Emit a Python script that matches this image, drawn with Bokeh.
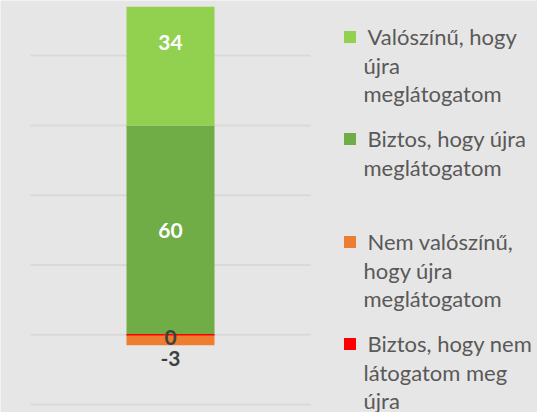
from bokeh.plotting import figure
from bokeh.models import Range1d
from bokeh.core.properties import value
from bokeh.embed import file_html
from bokeh.resources import INLINE

# ---- data ----
category = ["Válasz"]
series_names = [
    "Valószínű, hogy újra meglátogatom",
    "Biztos, hogy újra meglátogatom",
    "Nem valószínű, hogy újra meglátogatom",
    "Biztos, hogy nem látogatom meg újra",
]
legend_lines = [
    ["Valószínű, hogy", "újra", "meglátogatom"],
    ["Biztos, hogy újra", "meglátogatom"],
    ["Nem valószínű,", "hogy újra", "meglátogatom"],
    ["Biztos, hogy nem", "látogatom meg", "újra"],
]
series_values = [34, 60, -3, 0]
series_side = [1, 1, -1, -1]          # positive / negative stack
series_colors = ["#92d050", "#70ad47", "#ed7d31", "#ff0000"]
gridline_values = [-20, 0, 20, 40, 60, 80]

# ---- layout (page pixels) ----
W, H = 537, 412
PLOT_X0, PLOT_X1 = 30, 310        # page x of category band
ZERO_Y = 334.3                    # page y of value 0
PX_PER_UNIT = 3.49
BG = "#e7e6e6"

def dx(px):
    return (px - PLOT_X0) / (PLOT_X1 - PLOT_X0)

def dy(py):
    return (ZERO_Y - py) / PX_PER_UNIT

p = figure(width=W, height=H, output_backend="svg", toolbar_location=None,
           x_range=Range1d(dx(0), dx(W)),
           y_range=Range1d(dy(H), dy(0)),
           min_border=0, min_border_left=0, min_border_right=0,
           min_border_top=0, min_border_bottom=0)
p.axis.visible = False
p.grid.visible = False
p.outline_line_color = None
p.background_fill_color = BG
p.border_fill_color = BG

# gridlines
p.segment(x0=[0] * len(gridline_values), x1=[1] * len(gridline_values),
          y0=gridline_values, y1=gridline_values,
          line_color="#d9d9d9", line_width=2)

# stacked bar (stacking order from zero outward)
bar_x = 0.5
bar_w = 88 / (PLOT_X1 - PLOT_X0)
base = {1: 0, -1: 0}
order = [1, 0, 3, 2]
bottoms, tops = {}, {}
for i in order:
    v = series_values[i]
    s = series_side[i]
    if s > 0:
        b, t = base[s], base[s] + v
        base[s] = t
    else:
        b, t = base[s] + v, base[s]
        base[s] = b
    bottoms[i], tops[i] = b, t

for i in [1, 0, 2]:
    p.vbar(x=[bar_x], width=bar_w, bottom=[bottoms[i]], top=[tops[i]],
           fill_color=series_colors[i], line_color=None)
# zero-valued red series: shows as a thin line
p.segment(x0=[bar_x - bar_w / 2], x1=[bar_x + bar_w / 2],
          y0=[bottoms[3]], y1=[tops[3]], line_color=series_colors[3], line_width=1.5)

# data labels
lbl_font = value("Lato")
common = dict(text_align="center", text_baseline="middle", text_font=lbl_font,
              text_font_style="bold", text_font_size="21px")
p.text(x=[bar_x], y=[(bottoms[0] + tops[0]) / 2], text=[str(series_values[0])],
       y_offset=-24, text_color="white", **common)
p.text(x=[bar_x], y=[(bottoms[1] + tops[1]) / 2], text=[str(series_values[1])],
       text_color="white", **common)
p.text(x=[bar_x], y=[tops[3]], text=[str(series_values[3])], y_offset=3,
       text_color="#404040", **common)
p.text(x=[bar_x], y=[bottoms[2]], text=[str(series_values[2])], y_offset=13,
       text_color="#404040", **common)

# legend (manual, wrapped)
marker_centers_y = [36.5, 138.5, 241.5, 343.5]
first_baselines = [36, 138, 241, 343]
LINE_H = 28.5
for k in range(4):
    p.scatter(x=[dx(349.5)], y=[dy(marker_centers_y[k])], marker="square", size=12,
              fill_color=series_colors[k], line_color=None)
    xs, ys, ts = [], [], []
    for j, t in enumerate(legend_lines[k]):
        xs.append(dx(367 if j == 0 else 363))
        ys.append(dy(first_baselines[k] + j * LINE_H))
        ts.append(t)
    p.text(x=xs, y=ys, text=ts, text_align="left", text_baseline="alphabetic",
           text_color="#595959", text_font=value("Lato"), text_font_size="22px")

html = file_html(p, INLINE)
open("out.html", "w").write(html)
